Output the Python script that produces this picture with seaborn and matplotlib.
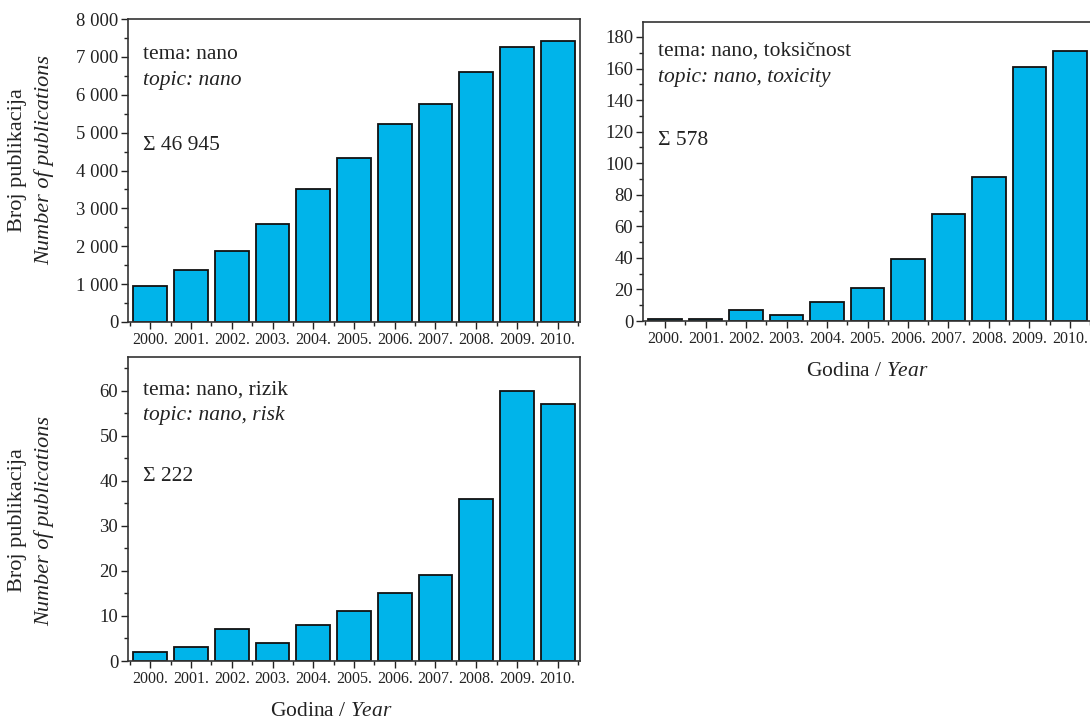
import matplotlib
matplotlib.use("Agg")
import matplotlib.pyplot as plt
import seaborn as sns
import pandas as pd
from matplotlib.ticker import MultipleLocator, FuncFormatter

years = ["2000.", "2001.", "2002.", "2003.", "2004.", "2005.", "2006.", "2007.", "2008.", "2009.", "2010."]
nano = [950, 1380, 1880, 2600, 3500, 4330, 5230, 5760, 6600, 7270, 7430]
nano_tox = [1, 1, 7, 4, 12, 21, 39, 68, 91, 161, 171]
nano_risk = [2, 3, 7, 4, 8, 11, 15, 19, 36, 60, 57]

titles_hr = ["tema: nano", "tema: nano, toksičnost", "tema: nano, rizik"]
titles_en = ["topic: nano", "topic: nano, toxicity", "topic: nano, risk"]
sums = ["Σ 46 945", "Σ 578", "Σ 222"]
ylabel_hr = "Broj publikacija"
ylabel_en = "Number of publications"
xlabel = r"Godina / $\mathit{Year}$"

sns.set_theme(style="ticks")
plt.rcParams["font.family"] = ["Liberation Serif", "DejaVu Serif"]
plt.rcParams["mathtext.fontset"] = "custom"
plt.rcParams["mathtext.rm"] = "Liberation Serif"
plt.rcParams["mathtext.it"] = "Liberation Serif:italic"

BAR = "#00B4EA"
TXT = "#222222"

fig = plt.figure(figsize=(10.9, 7.22), dpi=100)
W, H = 1090, 722

def pos(l, r, t, b):
    return [l / W, 1 - b / H, (r - l) / W, (b - t) / H]

ax1 = fig.add_axes(pos(128, 580, 19, 322))
ax2 = fig.add_axes(pos(643, 1092, 22, 321))
ax3 = fig.add_axes(pos(128, 580, 357, 661))

specs = [
    (ax1, nano, 8000, 1000, 500, (0.882, 0.797, 0.584)),
    (ax2, nano_tox, 189.5, 20, 10, (0.903, 0.816, 0.605)),
    (ax3, nano_risk, 67.5, 10, 5, (0.892, 0.806, 0.607)),
]

def thousands(v, p):
    return f"{int(v):,}".replace(",", " ")

for i, (ax, vals, ymax, major, minor, tys) in enumerate(specs):
    df = pd.DataFrame({"year": years, "n": vals})
    sns.barplot(data=df, x="year", y="n", ax=ax, color=BAR, edgecolor="#111111",
                linewidth=1.3, width=0.83, saturation=1)
    ax.set_xlim(-0.55, 10.55)
    ax.set_ylim(0, ymax)
    ax.yaxis.set_major_locator(MultipleLocator(major))
    ax.yaxis.set_minor_locator(MultipleLocator(minor))
    ax.xaxis.set_minor_locator(MultipleLocator(0.5))
    if i == 0:
        ax.yaxis.set_major_formatter(FuncFormatter(thousands))
    ax.tick_params(axis="y", which="major", length=5, width=1, labelsize=13.5, colors=TXT, pad=2)
    ax.tick_params(axis="y", which="minor", length=3, width=1, colors=TXT)
    ax.tick_params(axis="x", which="major", length=5, width=1, labelsize=11.5, colors=TXT, pad=2)
    ax.tick_params(axis="x", which="minor", length=3, width=1, colors=TXT)
    for s in ax.spines.values():
        s.set_visible(True)
        s.set_linewidth(1.2)
        s.set_color("#333333")
    ax.set_xlabel("")
    ax.set_ylabel("")
    ax.text(0.033, tys[0], titles_hr[i], transform=ax.transAxes, fontsize=15.5, color=TXT, va="center")
    ax.text(0.033, tys[1], titles_en[i], transform=ax.transAxes, fontsize=15.5, color=TXT, va="center",
            style="italic")
    ax.text(0.033, tys[2], sums[i], transform=ax.transAxes, fontsize=15.5, color=TXT, va="center")

for ax, yc in ((ax1, 0.535), (ax3, 0.462)):
    bb = ax.get_position()
    w_px = bb.width * W
    ax.text((18 - 128) / w_px, yc, ylabel_hr, transform=ax.transAxes, rotation=90,
            fontsize=16, color=TXT, ha="center", va="center")
    ax.text((44 - 128) / w_px, yc, ylabel_en, transform=ax.transAxes, rotation=90,
            fontsize=16, color=TXT, ha="center", va="center", style="italic")

ax2.text(0.5, (321 - 372) / 299, xlabel, transform=ax2.transAxes, fontsize=15.5, color=TXT,
         ha="center", va="center")
ax3.text((331 - 128) / 452, (661 - 712) / 304, xlabel, transform=ax3.transAxes, fontsize=15.5,
         color=TXT, ha="center", va="center")

fig.savefig("out.png", dpi=100)
